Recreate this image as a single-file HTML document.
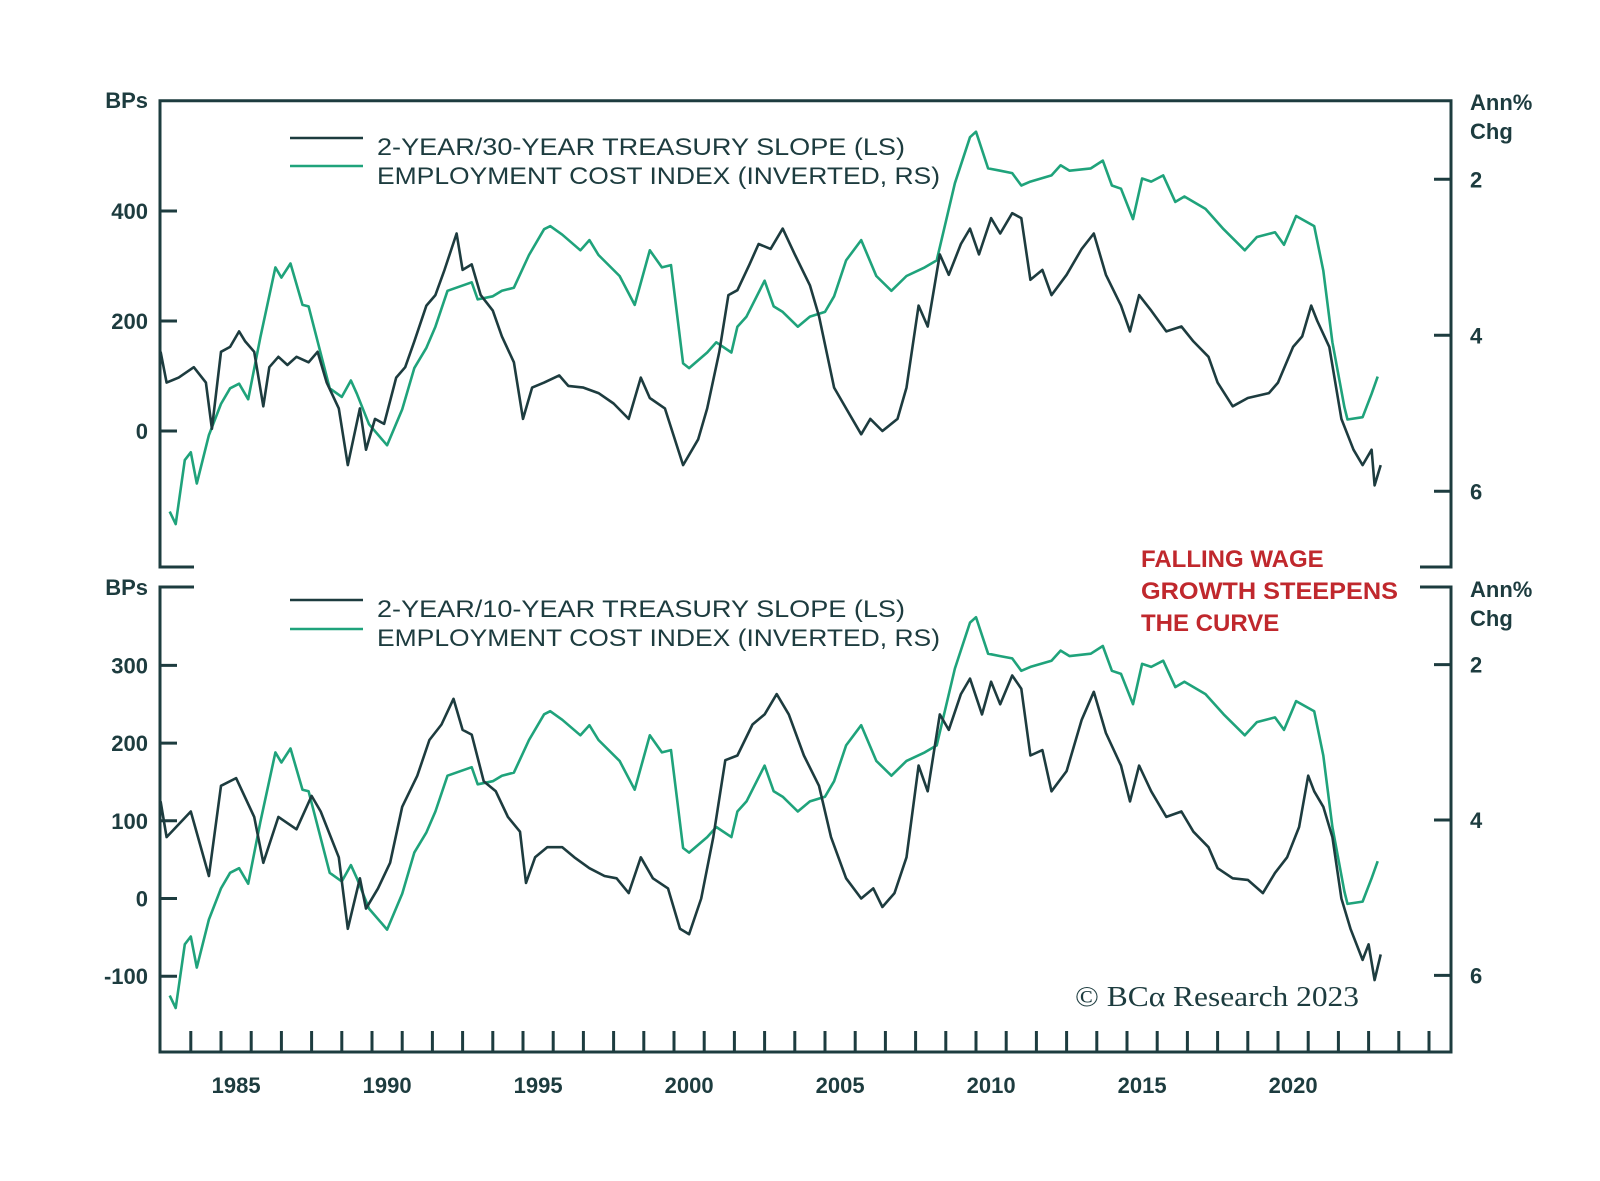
<!DOCTYPE html>
<html><head><meta charset="utf-8"><style>
html,body{margin:0;padding:0;background:#fff;}
svg{display:block;font-family:"Liberation Sans",sans-serif;}
</style></head><body>
<svg id="chart" width="1600" height="1181" viewBox="0 0 1600 1181" xmlns="http://www.w3.org/2000/svg">
<g id="frame" stroke="#1d3c3f" stroke-width="3" fill="none">
  <path d="M194,567 H160 V100.7 H1451 V567 H1420"/>
  <path d="M194,587 H160 V1052 H1451 V587 H1420"/>
</g>
<g id="axes" fill="#1d3c3f" font-weight="bold" font-size="22"></g>
<g id="series"></g>
<g font-size="24" fill="#1d3c3f">
  <line x1="290" y1="138" x2="363" y2="138" stroke="#1d3c3f" stroke-width="2.5"/>
  <line x1="290" y1="166" x2="363" y2="166" stroke="#1fa37b" stroke-width="2.5"/>
  <text x="377" y="155" textLength="528" lengthAdjust="spacingAndGlyphs">2-YEAR/30-YEAR TREASURY SLOPE (LS)</text>
  <text x="377" y="184" textLength="563" lengthAdjust="spacingAndGlyphs">EMPLOYMENT COST INDEX (INVERTED, RS)</text>
</g>
<g font-size="24" fill="#1d3c3f">
  <line x1="290" y1="600" x2="363" y2="600" stroke="#1d3c3f" stroke-width="2.5"/>
  <line x1="290" y1="629" x2="363" y2="629" stroke="#1fa37b" stroke-width="2.5"/>
  <text x="377" y="617" textLength="528" lengthAdjust="spacingAndGlyphs">2-YEAR/10-YEAR TREASURY SLOPE (LS)</text>
  <text x="377" y="646" textLength="563" lengthAdjust="spacingAndGlyphs">EMPLOYMENT COST INDEX (INVERTED, RS)</text>
</g>
<g font-size="24" font-weight="bold" fill="#c0282d">
  <text x="1141" y="567">FALLING WAGE</text>
  <text x="1141" y="599" textLength="257" lengthAdjust="spacingAndGlyphs">GROWTH STEEPENS</text>
  <text x="1141" y="631">THE CURVE</text>
</g>
<text x="1075" y="1006" font-family="'Liberation Serif',serif" font-size="28" fill="#1d3c3f" textLength="284" lengthAdjust="spacingAndGlyphs">© BCα Research 2023</text>
</svg>
<script>
const slope30T=[1983.0,1983.2,1983.6,1984.1,1984.5,1984.7,1985.0,1985.3,1985.6,1985.8,1986.1,1986.4,1986.6,1986.9,1987.2,1987.5,1987.9,1988.2,1988.5,1988.9,1989.2,1989.6,1989.8,1990.1,1990.4,1990.8,1991.1,1991.4,1991.8,1992.1,1992.4,1992.8,1993.0,1993.3,1993.6,1994.0,1994.3,1994.7,1995.0,1995.3,1995.7,1996.2,1996.5,1997.0,1997.5,1998.0,1998.5,1998.9,1999.2,1999.7,2000.3,2000.8,2001.1,2001.5,2001.8,2002.1,2002.5,2002.8,2003.2,2003.6,2004.0,2004.5,2004.8,2005.3,2005.7,2006.2,2006.5,2006.9,2007.4,2007.7,2008.1,2008.4,2008.8,2009.1,2009.5,2009.8,2010.1,2010.5,2010.8,2011.2,2011.5,2011.8,2012.2,2012.5,2013.0,2013.5,2013.9,2014.3,2014.8,2015.1,2015.4,2015.8,2016.3,2016.8,2017.2,2017.7,2018.0,2018.5,2019.0,2019.7,2020.0,2020.5,2020.8,2021.1,2021.3,2021.7,2022.1,2022.5,2022.8,2023.1,2023.2,2023.4];
const slope30V=[144,88,97,116,88,4,144,153,181,163,144,45,116,135,120,135,125,144,88,41,-62,41,-34,22,13,97,116,163,228,247,293,359,293,303,247,219,172,125,22,79,88,101,82,79,69,50,22,97,60,41,-62,-15,41,144,247,256,303,340,331,368,321,265,209,79,41,-6,22,0,22,79,228,190,321,284,340,368,321,387,359,396,387,275,293,247,284,331,359,284,228,181,247,219,181,190,163,135,88,45,60,69,88,153,172,228,200,153,22,-34,-62,-34,-99,-62];
const slope10T=[1983.0,1983.2,1984.0,1984.6,1985.0,1985.5,1986.1,1986.4,1986.9,1987.5,1988.0,1988.3,1988.9,1989.2,1989.6,1989.8,1990.2,1990.6,1991.0,1991.5,1991.9,1992.3,1992.7,1993.0,1993.3,1993.7,1994.1,1994.5,1994.9,1995.1,1995.4,1995.8,1996.3,1996.7,1997.2,1997.7,1998.1,1998.5,1998.9,1999.3,1999.8,2000.2,2000.5,2000.9,2001.3,2001.7,2002.1,2002.6,2003.0,2003.4,2003.8,2004.3,2004.8,2005.2,2005.7,2006.2,2006.6,2006.9,2007.3,2007.7,2008.1,2008.4,2008.8,2009.1,2009.5,2009.8,2010.2,2010.5,2010.8,2011.2,2011.5,2011.8,2012.2,2012.5,2013.0,2013.5,2013.9,2014.3,2014.8,2015.1,2015.4,2015.8,2016.3,2016.8,2017.2,2017.7,2018.0,2018.5,2019.0,2019.5,2019.9,2020.3,2020.7,2021.0,2021.2,2021.5,2021.8,2022.1,2022.4,2022.8,2023.0,2023.2,2023.4];
const slope10V=[125,79,112,29,145,155,105,46,105,89,132,112,53,-39,26,-13,13,46,118,158,204,224,257,217,211,151,138,105,86,20,53,66,66,53,39,29,26,7,53,26,13,-39,-46,0,79,178,184,224,237,263,237,184,145,79,26,0,13,-11,7,53,171,138,237,217,263,283,237,279,250,287,270,184,191,138,164,230,266,213,171,125,171,138,105,112,86,66,39,26,24,7,33,53,92,158,138,118,79,0,-39,-79,-59,-105,-72];
const eciT=[1983.3,1983.5,1983.8,1984.0,1984.2,1984.6,1985.0,1985.3,1985.6,1985.9,1986.3,1986.8,1987.0,1987.3,1987.7,1987.9,1988.6,1989.0,1989.3,1989.5,1989.9,1990.5,1991.0,1991.4,1991.8,1992.1,1992.5,1993.3,1993.5,1994.0,1994.3,1994.7,1995.2,1995.7,1995.9,1996.3,1996.9,1997.2,1997.5,1998.2,1998.7,1999.2,1999.6,1999.9,2000.3,2000.5,2001.1,2001.4,2001.9,2002.1,2002.4,2003.0,2003.3,2003.6,2004.1,2004.5,2005.0,2005.3,2005.7,2006.2,2006.7,2007.2,2007.7,2008.3,2008.7,2009.3,2009.8,2010.0,2010.4,2010.8,2011.2,2011.5,2011.8,2012.5,2012.8,2013.1,2013.8,2014.2,2014.5,2014.8,2015.2,2015.5,2015.8,2016.2,2016.6,2016.9,2017.6,2018.2,2018.9,2019.3,2019.9,2020.2,2020.6,2021.2,2021.5,2021.8,2022.2,2022.3,2022.8,2023.1,2023.3];
const eciV=[6.26,6.42,5.6,5.5,5.9,5.28,4.88,4.68,4.62,4.82,4.03,3.13,3.26,3.08,3.61,3.63,4.68,4.79,4.58,4.75,5.14,5.41,4.95,4.42,4.16,3.89,3.43,3.32,3.54,3.5,3.43,3.39,2.97,2.64,2.6,2.71,2.91,2.78,2.97,3.24,3.61,2.91,3.13,3.1,4.36,4.42,4.22,4.09,4.22,3.89,3.76,3.3,3.63,3.7,3.89,3.76,3.7,3.5,3.04,2.78,3.24,3.43,3.24,3.13,3.04,2.05,1.46,1.39,1.86,1.89,1.92,2.08,2.03,1.95,1.82,1.89,1.86,1.76,2.08,2.12,2.51,1.99,2.03,1.95,2.29,2.22,2.38,2.64,2.91,2.74,2.68,2.84,2.47,2.6,3.17,4.09,4.92,5.08,5.05,4.75,4.53];
const upperLeftTicks=[0,200,400];
const lowerLeftTicks=[-100,0,100,200,300];
const rightTicks=[2,4,6];
const yearLabels=[1985,1990,1995,2000,2005,2010,2015,2020];
const tickYears=[1984,1985,1986,1987,1988,1989,1990,1991,1992,1993,1994,1995,1996,1997,1998,1999,2000,2001,2002,2003,2004,2005,2006,2007,2008,2009,2010,2011,2012,2013,2014,2015,2016,2017,2018,2019,2020,2021,2022,2023,2024,2025];

const NS='http://www.w3.org/2000/svg';
const xS=t=>221+(t-1985)*30.2;
const uL=v=>431-v*0.55, uR=e=>179.3+(e-2)*78;
const lL=v=>898.5-v*0.777, lR=e=>664.6+(e-2)*77.7;
const axes=document.getElementById('axes'), series=document.getElementById('series');
function mk(tag,attrs,parent){const e=document.createElementNS(NS,tag);for(const k in attrs)e.setAttribute(k,attrs[k]);parent.appendChild(e);return e;}
function line(x1,y1,x2,y2){return mk('line',{x1,y1,x2,y2,stroke:'#1d3c3f','stroke-width':3},axes);}
function label(x,y,txt,anchor){const t=mk('text',{x,y,'text-anchor':anchor},axes);t.textContent=txt;return t;}

upperLeftTicks.forEach(v=>{const y=uL(v);const l=line(160,y,177,y);


const t=label(148,y+8,String(v),'end');

});
lowerLeftTicks.forEach(v=>{const y=lL(v);const l=line(160,y,177,y);


const t=label(148,y+8,String(v),'end');

});
rightTicks.forEach(e=>{[uR(e),lR(e)].forEach(y=>{const l=line(1434,y,1451,y);


const t=label(1470,y+8,String(e),'start');

});});
tickYears.forEach(yr=>{const x=xS(yr);const l=line(x,1031,x,1052);

});
yearLabels.forEach(yr=>{const t=label(xS(yr+0.5),1093,String(yr),'middle');

});
[[100,116],[587,603]].forEach(([y1])=>{
const b=label(148,y1+8,'BPs','end');


const a=label(1470,y1+10,'Ann%','start');


const c=label(1470,y1+39,'Chg','start');

});

function path(ts,vs,fy,color,name){
const d=ts.map((t,i)=>(i?'L':'M')+xS(t).toFixed(1)+','+fy(vs[i]).toFixed(1)).join(' ');
const p=mk('path',{d,fill:'none',stroke:color,'stroke-width':2.6,'stroke-linejoin':'round'},series);

}
path(eciT,eciV,uR,'#1fa37b','upper-eci-line');
path(slope30T,slope30V,uL,'#1d3c3f','slope-2s30s-line');
path(eciT,eciV,lR,'#1fa37b','lower-eci-line');
path(slope10T,slope10V,lL,'#1d3c3f','slope-2s10s-line');
</script>
</body></html>
